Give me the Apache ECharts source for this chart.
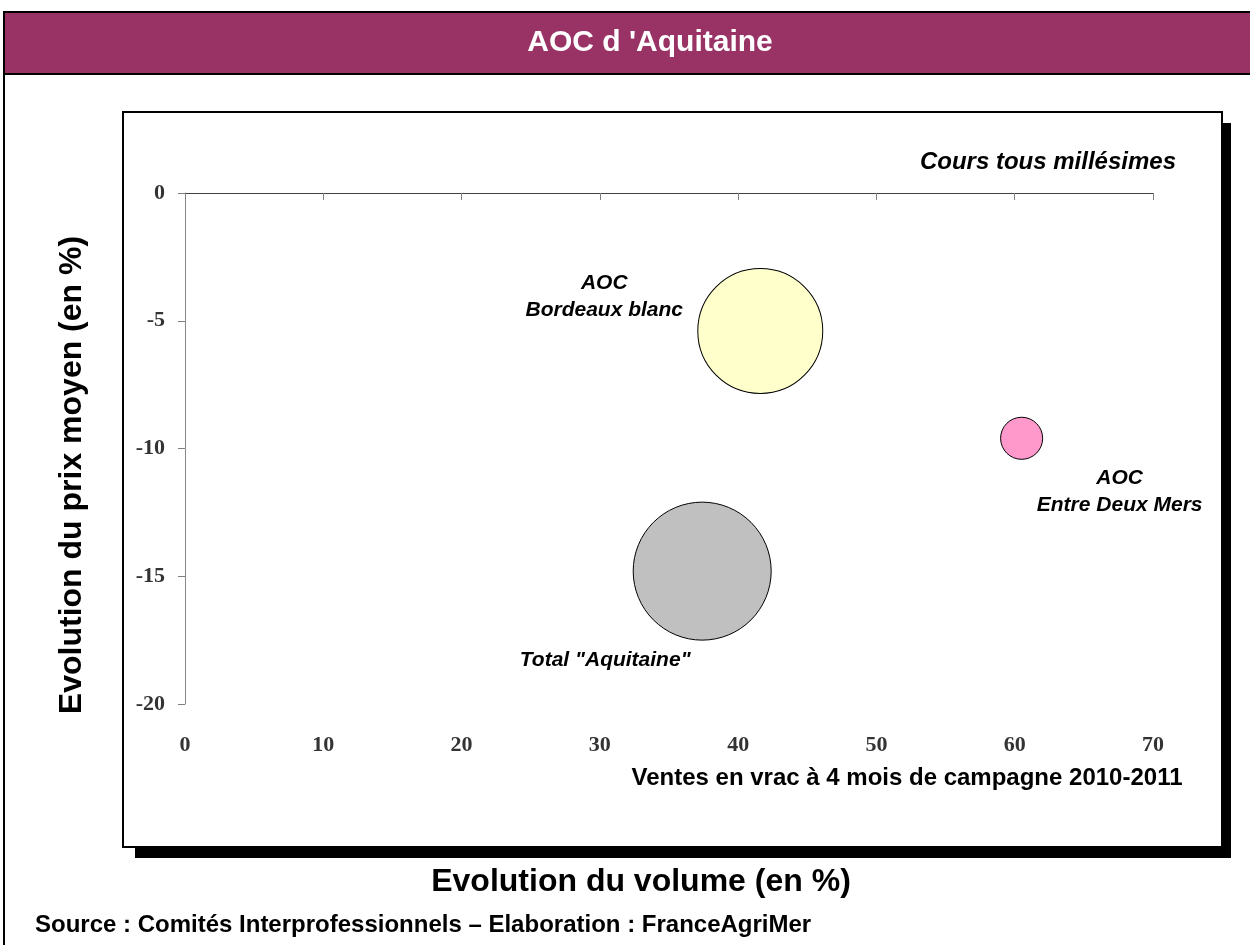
<!DOCTYPE html>
<html>
<head>
<meta charset="utf-8">
<script src="https://cdn.jsdelivr.net/npm/echarts@6/dist/echarts.min.js"></script>
<style>
  html, body { margin: 0; padding: 0; background: #ffffff; }
  #chart { width: 1250px; height: 945px; }
</style>
</head>
<body>
<div id="chart"></div>
<script>
// Appellations plotted as bubbles
const appellations = ['AOC\nBordeaux blanc', 'AOC\nEntre Deux Mers', 'Total "Aquitaine"'];
// Evolution du volume (en %)
const volumeChange = [41.6, 60.5, 37.4];
// Evolution du prix moyen (en %)
const priceChange = [-5.4, -9.6, -14.8];
// Relative weight of each appellation (bubble area, Total = 100)
const bubbleWeight = [82, 9.3, 100];
const bubbleColors = ['#FFFFCC', '#FF99CC', '#C0C0C0'];
// Label placement around each bubble
const labelOffsets = [[-156, -34], [98, 53], [-97, 89]];

const xTicks = { min: 0, max: 70, interval: 10 };
const yTicks = { min: -20, max: 0, interval: 5 };

const chart = echarts.init(document.getElementById('chart'), null, { renderer: 'canvas' });

const sansBold = { fontFamily: 'Liberation Sans, Arial, sans-serif', fontWeight: 'bold' };
const serifBold = { fontFamily: 'Liberation Serif, Times New Roman, serif', fontWeight: 'bold' };

const seriesData = appellations.map((name, i) => ({
  name: name,
  value: [volumeChange[i], priceChange[i], bubbleWeight[i]],
  itemStyle: { color: bubbleColors[i] },
  label: { offset: labelOffsets[i] }
}));

chart.setOption({
  animation: false,
  backgroundColor: '#ffffff',
  grid: { left: 185, right: 97, top: 193, bottom: 241 },
  xAxis: [
    {
      type: 'value', position: 'bottom',
      min: xTicks.min, max: xTicks.max, interval: xTicks.interval,
      axisLine: { show: false },
      axisTick: { show: false },
      splitLine: { show: false },
      axisLabel: Object.assign({ color: '#333333', fontSize: 22, margin: 30 }, serifBold)
    },
    {
      type: 'value', position: 'top',
      min: xTicks.min, max: xTicks.max, interval: xTicks.interval,
      axisLine: { show: true, onZero: false, lineStyle: { color: '#404040', width: 1 } },
      axisTick: { show: true, inside: true, length: 7, lineStyle: { color: '#808080', width: 1 } },
      splitLine: { show: false },
      axisLabel: { show: false }
    }
  ],
  yAxis: {
    type: 'value',
    min: yTicks.min, max: yTicks.max, interval: yTicks.interval,
    axisLine: { show: true, onZero: false, lineStyle: { color: '#8a8a8a', width: 1 } },
    axisTick: { show: true, inside: false, length: 7, lineStyle: { color: '#808080', width: 1 } },
    splitLine: { show: false },
    axisLabel: Object.assign({ color: '#333333', fontSize: 22, margin: 20 }, serifBold)
  },
  series: [{
    type: 'scatter',
    xAxisIndex: 0,
    yAxisIndex: 0,
    data: seriesData,
    symbolSize: function (val) { return 138 * Math.sqrt(val[2] / 100); },
    itemStyle: { borderColor: '#000000', borderWidth: 1, opacity: 1 },
    label: {
      show: true,
      position: 'inside',
      formatter: '{b}',
      color: '#000000',
      fontSize: 21,
      fontStyle: 'italic',
      fontWeight: 'bold',
      fontFamily: 'Liberation Sans, Arial, sans-serif',
      align: 'center',
      lineHeight: 27
    },
    emphasis: { disabled: true },
    z: 5
  }],
  graphic: [
    // outer frame
    { type: 'rect', z: -20, shape: { x: 4, y: 12, width: 1260, height: 1000 },
      style: { fill: '#ffffff', stroke: '#000000', lineWidth: 2 } },
    // title band
    { type: 'rect', z: -19, shape: { x: 4, y: 12, width: 1260, height: 62 },
      style: { fill: '#993366', stroke: '#000000', lineWidth: 2 } },
    { type: 'text', z: 10, x: 650, y: 43,
      style: Object.assign({ text: "AOC d 'Aquitaine", fill: '#ffffff', fontSize: 30,
        align: 'center', verticalAlign: 'middle' }, sansBold) },
    // plot box shadow and box
    { type: 'rect', z: -18, shape: { x: 135, y: 123, width: 1096, height: 735 },
      style: { fill: '#000000' } },
    { type: 'rect', z: -17, shape: { x: 123, y: 112, width: 1099, height: 735 },
      style: { fill: '#ffffff', stroke: '#000000', lineWidth: 2 } },
    // notes inside the plot box
    { type: 'text', z: 10, x: 1176, y: 162,
      style: Object.assign({ text: 'Cours tous millésimes', fill: '#000000', fontSize: 24,
        fontStyle: 'italic', align: 'right', verticalAlign: 'middle' }, sansBold) },
    { type: 'text', z: 10, x: 907, y: 778,
      style: Object.assign({ text: 'Ventes en vrac à 4 mois de campagne 2010-2011', fill: '#000000', fontSize: 24,
        align: 'center', verticalAlign: 'middle' }, sansBold) },
    // axis titles
    { type: 'text', z: 10, x: 641, y: 882,
      style: Object.assign({ text: 'Evolution du volume (en %)', fill: '#000000', fontSize: 32,
        align: 'center', verticalAlign: 'middle' }, sansBold) },
    { type: 'text', z: 10, x: 72, y: 475, rotation: Math.PI / 2,
      style: Object.assign({ text: 'Evolution du prix moyen (en %)', fill: '#000000', fontSize: 32,
        align: 'center', verticalAlign: 'middle' }, sansBold) },
    // source line
    { type: 'text', z: 10, x: 35, y: 925,
      style: Object.assign({ text: 'Source : Comités Interprofessionnels – Elaboration : FranceAgriMer', fill: '#000000', fontSize: 24,
        align: 'left', verticalAlign: 'middle' }, sansBold) }
  ]
});
</script>
</body>
</html>
